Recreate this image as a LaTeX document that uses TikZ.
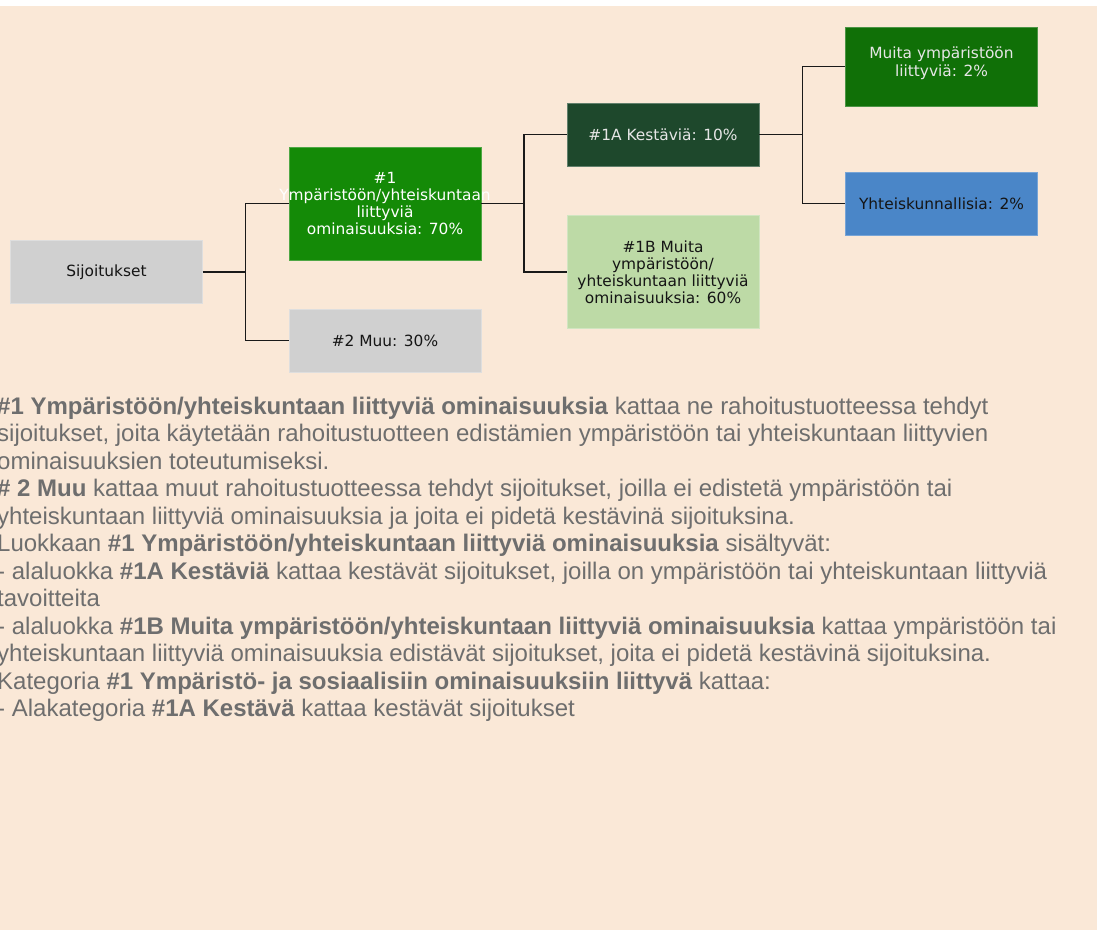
\documentclass[tikz,border=0pt]{standalone}
\usepackage{fontspec}
\setmainfont{Liberation Sans}
\newfontfamily\dvfont{DejaVu Sans}
\definecolor{bgbeige}{HTML}{FAE8D7}
\definecolor{boxgray}{HTML}{D0D0D0}
\definecolor{greenA}{HTML}{148A07}
\definecolor{greenDark}{HTML}{1E482C}
\definecolor{greenMid}{HTML}{107007}
\definecolor{blueBox}{HTML}{4A86C8}
\definecolor{greenLight}{HTML}{BDDAA6}
\definecolor{bodygray}{HTML}{6E6E6E}
\definecolor{darktxt}{HTML}{151515}
\definecolor{lighttxt}{HTML}{E6E6E6}
\tikzset{
  box/.style={rectangle, inner sep=0pt, minimum width=192pt, align=center,
    font=\dvfont\fontsize{15.4}{17}\selectfont},
  conn/.style={draw=black!90, line width=1.1pt},
  bodyline/.style={anchor=base west, inner sep=0pt, text=bodygray,
    font=\fontsize{24}{27.5}\selectfont}
}
\begin{document}
\begin{tikzpicture}[x=1pt,y=-1pt]
\useasboundingbox (0,0) rectangle (1104,930);
\fill[white] (0,0) rectangle (1104,930);
\fill[bgbeige] (0,6) rectangle (1097,930);

% boxes
\node[box, fill=boxgray, draw=boxgray!70!white, minimum height=63pt, text=darktxt] (sij) at (106.5,272) {Sijoitukset};
\node[box, fill=greenA, draw=greenA!75!white, minimum height=113pt, text=white] (n1) at (385,203.5)
  {\#1\\\makebox[0pt]{Ympäristöön/yhteiskuntaan}\\liittyviä\\ominaisuuksia: 70\%};
\node[box, fill=boxgray, draw=boxgray!70!white, minimum height=63pt, text=darktxt] (n2) at (385,340.5) {\#2 Muu: 30\%};
\node[box, fill=greenDark, draw=greenDark!70!white, minimum height=63pt, text=lighttxt] (n1a) at (663,134.5) {\#1A Kestäviä: 10\%};
\node[box, fill=greenLight, draw=greenLight!70!white, minimum height=113pt, text=darktxt] (n1b) at (663,272)
  {\#1B Muita\\ympäristöön/\\yhteiskuntaan liittyviä\\ominaisuuksia: 60\%};
\node[box, fill=greenMid, draw=greenMid!75!white, minimum height=79pt, text=lighttxt] (ymp) at (941.5,66.5) {};
\node[align=center, inner sep=0pt, font=\dvfont\fontsize{15.4}{17.5}\selectfont, text=lighttxt] (ympt) at (941.5,63)
  {Muita ympäristöön\\liittyviä: 2\%};
\node[box, fill=blueBox, draw=blueBox!75!white, minimum height=63pt, text=darktxt] (yht) at (941.5,203.5) {Yhteiskunnallisia: 2\%};

% connectors
\coordinate (j1) at (245.5,272);
\coordinate (j2) at (524,203.5);
\coordinate (j3) at (802.5,134.5);
\draw[conn] (sij.east) -- (j1) |- (n1.west);
\draw[conn] (j1) |- (n2.west);
\draw[conn] (n1.east) -- (j2) |- (n1a.west);
\draw[conn] (j2) |- (n1b.west);
\draw[conn] (n1a.east) -- (j3) |- (ymp.west);
\draw[conn] (j3) |- (yht.west);

% body text
\node[bodyline] (t1) at (-3,414) {\textbf{\#1 Ympäristöön/yhteiskuntaan liittyviä ominaisuuksia} kattaa ne rahoitustuotteessa tehdyt};
\node[bodyline] (t2) at (-3,441.5) {sijoitukset, joita käytetään rahoitustuotteen edistämien ympäristöön tai yhteiskuntaan liittyvien};
\node[bodyline] (t3) at (-3,469) {ominaisuuksien toteutumiseksi.};
\node[bodyline] (t4) at (-3,496.5) {\textbf{\# 2 Muu} kattaa muut rahoitustuotteessa tehdyt sijoitukset, joilla ei edistetä ympäristöön tai};
\node[bodyline] (t5) at (-3,524) {yhteiskuntaan liittyviä ominaisuuksia ja joita ei pidetä kestävinä sijoituksina.};
\node[bodyline] (t6) at (-3,551.5) {Luokkaan \textbf{\#1 Ympäristöön/yhteiskuntaan liittyviä ominaisuuksia} sisältyvät:};
\node[bodyline] (t7) at (-3,579) {- alaluokka \textbf{\#1A Kestäviä} kattaa kestävät sijoitukset, joilla on ympäristöön tai yhteiskuntaan liittyviä};
\node[bodyline] (t8) at (-3,606.5) {tavoitteita};
\node[bodyline] (t9) at (-3,634) {- alaluokka \textbf{\#1B Muita ympäristöön/yhteiskuntaan liittyviä ominaisuuksia} kattaa ympäristöön tai};
\node[bodyline] (t10) at (-3,661.5) {yhteiskuntaan liittyviä ominaisuuksia edistävät sijoitukset, joita ei pidetä kestävinä sijoituksina.};
\node[bodyline] (t11) at (-3,689) {Kategoria \textbf{\#1 Ympäristö- ja sosiaalisiin ominaisuuksiin liittyvä} kattaa:};
\node[bodyline] (t12) at (-3,716.5) {- Alakategoria \textbf{\#1A Kestävä} kattaa kestävät sijoitukset};
\end{tikzpicture}
\end{document}
